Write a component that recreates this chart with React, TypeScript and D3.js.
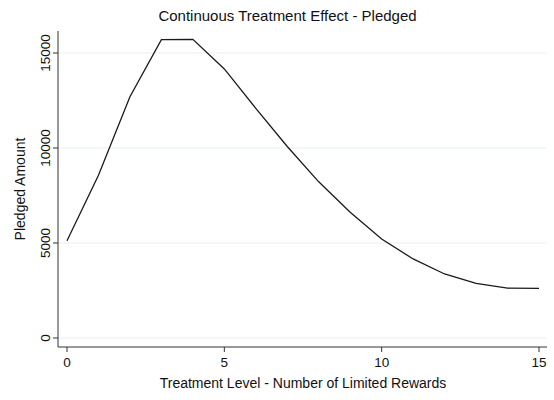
import React from "react";
import * as d3 from "d3";

const treatmentLevels = [0, 1, 2, 3, 4, 5, 6, 7, 8, 9, 10, 11, 12, 13, 14, 15];
const pledgedAmount = [5120, 8560, 12700, 15700, 15720, 14160, 12090, 10080, 8220, 6620, 5210, 4160, 3370, 2880, 2620, 2610];
const xTicks = [0, 5, 10, 15];
const yTicks = [0, 5000, 10000, 15000];

const W = 554;
const H = 400;
const FONT = "'Liberation Sans', Arial, Helvetica, sans-serif";

export default function App() {
  const plotLeft = 58;
  const plotRight = 547;
  const plotTop = 31;
  const plotBottom = 347;

  const x = d3.scaleLinear().domain([0, 15]).range([67, 539]);
  const y = d3.scaleLinear().domain([0, 15000]).range([338, 53]);

  const line = d3
    .line<number>()
    .x((_, i) => x(treatmentLevels[i]))
    .y((d) => y(d));

  return (
    <svg
      width={W}
      height={H}
      style={{ position: "absolute", left: 0, top: 0, background: "#fff" }}
      fontFamily={FONT}
    >
      <rect x={0} y={0} width={W} height={H} fill="#fff" />
      {yTicks.map((t) => (
        <line
          key={"g" + t}
          x1={plotLeft}
          x2={plotRight}
          y1={y(t)}
          y2={y(t)}
          stroke="#e6efef"
          strokeWidth={1}
        />
      ))}
      <path d={line(pledgedAmount) || ""} fill="none" stroke="#1a1a1a" strokeWidth={1.3} />
      <line x1={plotLeft} x2={plotLeft} y1={plotTop} y2={plotBottom} stroke="#333" strokeWidth={1} />
      <line x1={plotLeft} x2={plotRight} y1={plotBottom} y2={plotBottom} stroke="#333" strokeWidth={1} />
      {yTicks.map((t) => (
        <g key={"y" + t}>
          <line x1={plotLeft - 5} x2={plotLeft} y1={y(t)} y2={y(t)} stroke="#333" strokeWidth={1} />
          <text
            transform={`translate(50,${y(t)}) rotate(-90)`}
            textAnchor="middle"
            fontSize={13.5}
            fill="#111"
          >
            {t}
          </text>
        </g>
      ))}
      {xTicks.map((t) => (
        <g key={"x" + t}>
          <line x1={x(t)} x2={x(t)} y1={plotBottom} y2={plotBottom + 5} stroke="#333" strokeWidth={1} />
          <text x={x(t)} y={367} textAnchor="middle" fontSize={13.5} fill="#111">
            {t}
          </text>
        </g>
      ))}
      <text x={287.5} y={21} textAnchor="middle" fontSize={15} fill="#111">
        Continuous Treatment Effect - Pledged
      </text>
      <text x={303} y={388} textAnchor="middle" fontSize={14} fill="#111">
        Treatment Level - Number of Limited Rewards
      </text>
      <text
        transform={`translate(25,${(plotTop + plotBottom) / 2}) rotate(-90)`}
        textAnchor="middle"
        fontSize={14}
        fill="#111"
      >
        Pledged Amount
      </text>
    </svg>
  );
}
